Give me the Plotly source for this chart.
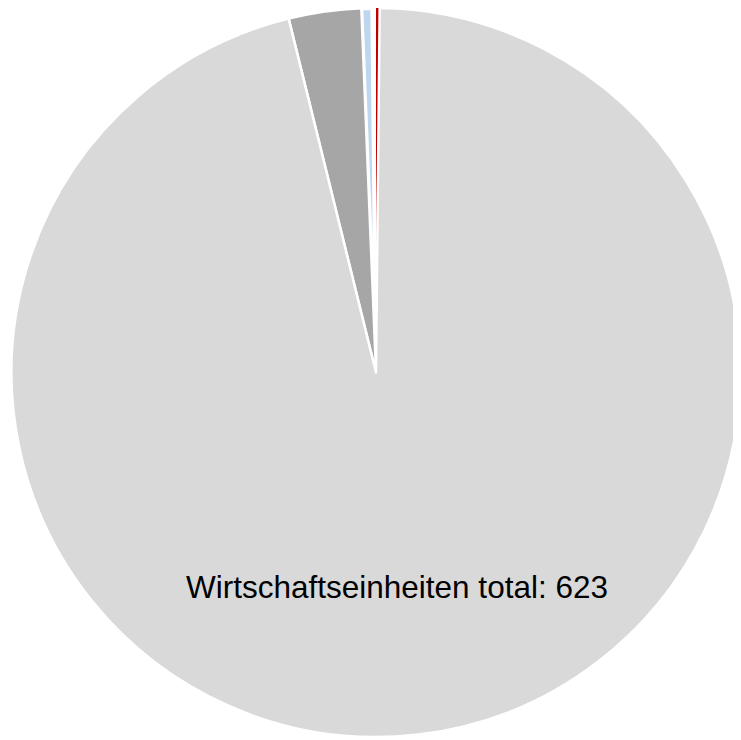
import plotly.graph_objects as go

# Data (total = 623)
categories = ["Kategorie A", "Kategorie B", "Kategorie C", "Kategorie D", "Kategorie E"]
values = [1, 1, 3, 20, 598]
colors = ["#C00000", "#FFFFFF", "#BDD7EE", "#A6A6A6", "#D9D9D9"]
line_widths = [0, 0, 4, 2.5, 2.5]
label_text = "Wirtschaftseinheiten total: 623"

# The page body has an 8px margin, so the figure is sized to fit the window
W, H = 733, 732

fig = go.Figure(
    go.Pie(
        labels=categories,
        values=values,
        sort=False,
        direction="counterclockwise",
        rotation=0,
        marker=dict(colors=colors, line=dict(color="white", width=line_widths)),
        textinfo="none",
        hoverinfo="label+value",
        domain=dict(x=[3 / W, 1.0], y=[3 / H, 1.0]),
        showlegend=False,
    )
)

fig.add_annotation(
    text=label_text,
    x=389.5 / W,
    y=1 - 579 / H,
    xref="paper",
    yref="paper",
    xanchor="center",
    yanchor="middle",
    showarrow=False,
    font=dict(family="Liberation Sans, Arial, sans-serif", size=31.5, color="#000000"),
)

fig.update_layout(
    width=W,
    height=H,
    margin=dict(l=0, r=0, t=0, b=0),
    paper_bgcolor="white",
    plot_bgcolor="white",
)

fig.write_html("out.html")
